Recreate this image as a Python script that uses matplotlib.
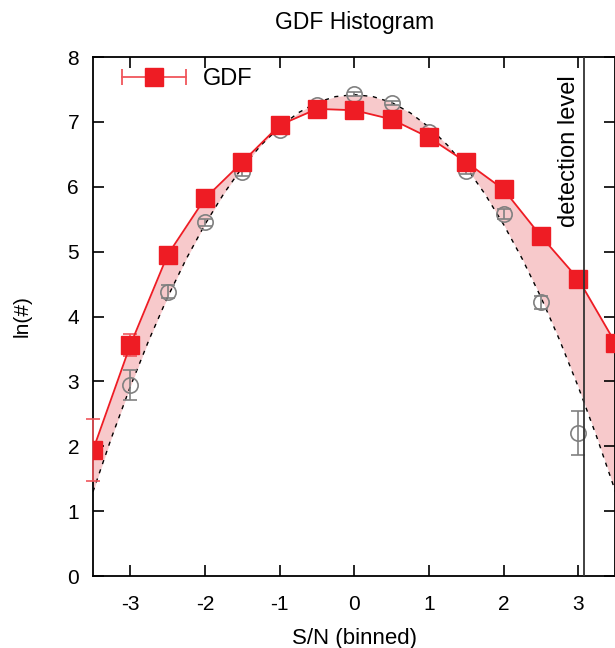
import numpy as np
import matplotlib
matplotlib.use("Agg")
import matplotlib.pyplot as plt
from matplotlib.lines import Line2D
from matplotlib.legend_handler import HandlerLine2D

plt.rcParams['font.family'] = ['Liberation Sans', 'DejaVu Sans']
plt.rcParams['axes.unicode_minus'] = False

# GDF (red squares)
gdf_x = [-3.5, -3.0, -2.5, -2.0, -1.5, -1.0, -0.5, 0.0, 0.5, 1.0, 1.5, 2.0, 2.5, 3.0, 3.5]
gdf_y = [1.94, 3.56, 4.95, 5.82, 6.38, 6.95, 7.20, 7.18, 7.04, 6.76, 6.38, 5.96, 5.24, 4.58, 3.59]
gdf_err = [0.48, 0.17, 0.06, 0.04, 0.03, 0.02, 0.02, 0.02, 0.02, 0.02, 0.03, 0.04, 0.06, 0.08, 0.12]

# open grey circles
obs_x = [-3.0, -2.5, -2.0, -1.5, -1.0, -0.5, 0.0, 0.5, 1.0, 1.5, 2.0, 2.5, 3.0]
obs_y = [2.95, 4.38, 5.45, 6.22, 6.88, 7.26, 7.43, 7.29, 6.84, 6.25, 5.58, 4.22, 2.20]
obs_err = [0.23, 0.10, 0.06, 0.05, 0.04, 0.03, 0.03, 0.03, 0.04, 0.05, 0.07, 0.10, 0.34]

model_x = [-3.5, -3.25, -3.0, -2.75, -2.5, -2.25, -2.0, -1.75, -1.5, -1.25, -1.0, -0.75, -0.5, -0.25,
           0.0, 0.25, 0.5, 0.75, 1.0, 1.25, 1.5, 1.75, 2.0, 2.25, 2.5, 2.75, 3.0, 3.25, 3.5]
model_y = [1.30, 2.14, 2.92, 3.64, 4.30, 4.89, 5.42, 5.89, 6.30, 6.64, 6.92, 7.14, 7.30, 7.39,
           7.42, 7.39, 7.30, 7.14, 6.92, 6.64, 6.30, 5.89, 5.42, 4.89, 4.30, 3.64, 2.92, 2.14, 1.30]

detection_level = 3.08

red = '#ee1c24'
red_err = '#f0565c'
grey = '#808080'

fig = plt.figure(figsize=(6.15, 6.48), dpi=100)
ax = fig.add_axes([0.1512, 0.1111, 0.8496, 0.8009])

# shaded band between GDF line and model curve
red_on_model = np.interp(model_x, gdf_x, gdf_y)
ax.fill_between(model_x, model_y, red_on_model, color='#f7c9cb', lw=0, zorder=1)

ax.plot(model_x, model_y, ls=(0, (3, 4)), color='black', lw=1.0, zorder=2)

ax.errorbar(obs_x, obs_y, yerr=obs_err, fmt='o', mfc='none', mec=grey, ms=11, mew=1.2,
            ecolor=grey, elinewidth=1.2, capsize=5, capthick=1.2, zorder=3)

gdf = ax.errorbar(gdf_x, gdf_y, yerr=gdf_err, fmt='-s', color=red, ms=13, lw=1.3,
                  ecolor=red_err, elinewidth=1.2, capsize=5, capthick=1.2, zorder=4)
# error bars are not clipped at the frame, the squares are
for art in list(gdf[1]) + list(gdf[2]):
    art.set_clip_on(False)

ax.axvline(detection_level, color='#333333', lw=1.3, zorder=5)
ax.text(detection_level - 0.05, 7.72, 'detection level', rotation=90, ha='right', va='top',
        fontsize=17)

ax.set_xlim(-3.5, 3.5)
ax.set_ylim(0, 8)
ax.set_xticks([-3, -2, -1, 0, 1, 2, 3])
ax.set_yticks(range(0, 9))
ax.tick_params(direction='in', length=8, width=1.2, top=True, right=True, labelsize=15)
ax.tick_params(axis='x', pad=14)
ax.tick_params(axis='y', pad=10)
for s in ax.spines.values():
    s.set_linewidth(1.3)

ax.set_title('GDF Histogram', fontsize=16.5, pad=20)
ax.set_xlabel('S/N (binned)', fontsize=16, labelpad=10)
ax.set_ylabel('ln(#)', fontsize=15, labelpad=26)

# legend: horizontal bar with caps and a square in the middle
caps = Line2D([], [], color=red_err, lw=1.3, marker='|', ms=12, mew=1.3)
square = Line2D([], [], color=red, ls='none', marker='s', ms=13)
ax.legend([(caps, square)], ['GDF'], loc='upper left', frameon=False, fontsize=17,
          handlelength=3.3, handletextpad=0.4, bbox_to_anchor=(0.002, 1.02),
          handler_map={caps: HandlerLine2D(numpoints=2), square: HandlerLine2D(numpoints=1)})

fig.savefig('out.png', dpi=100)
